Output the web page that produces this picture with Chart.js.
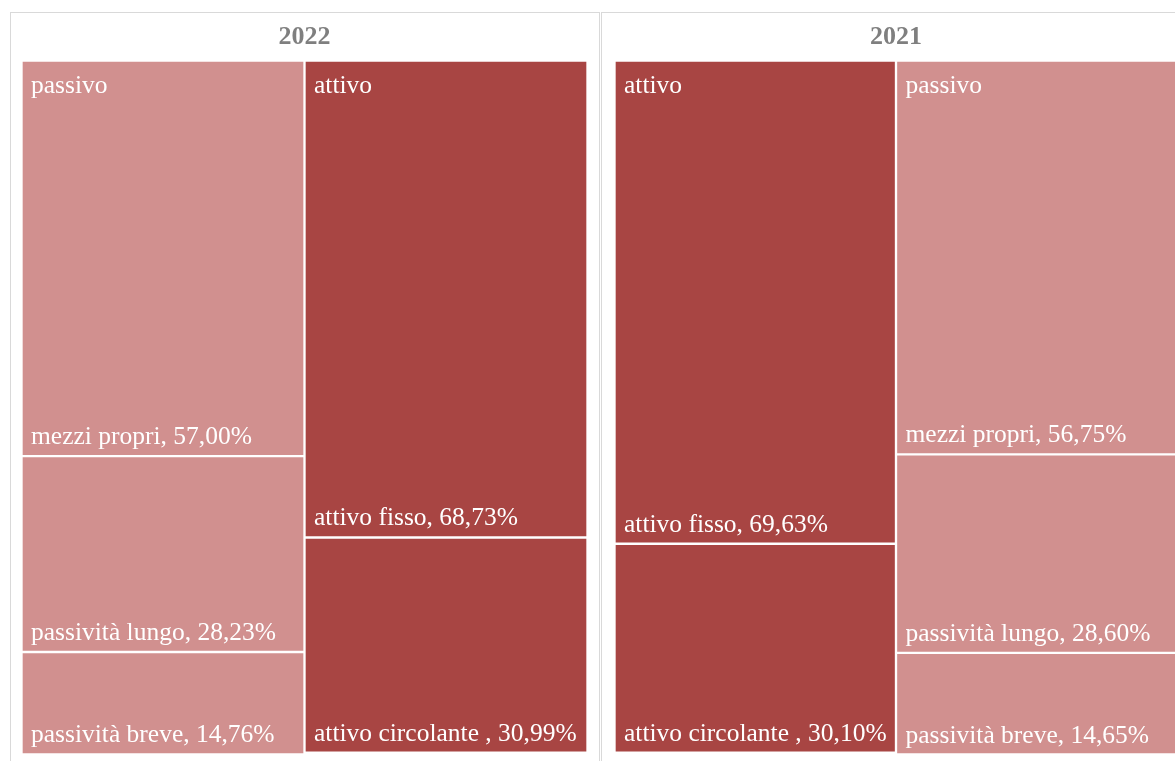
<!DOCTYPE html>
<html>
<head>
<meta charset="utf-8">
<script src="https://cdn.jsdelivr.net/npm/chart.js@4/dist/chart.umd.min.js"></script>
<style>
    body { margin: 0; background: #fff; overflow: hidden; width: 1175px; height: 761px; position: relative; }
    .panel { position: absolute; top: 12px; width: 590px; height: 800px; box-sizing: border-box; border: 1px solid #d9d9d9; }
    canvas { position: absolute; top: 12px; }
</style>
</head>
<body>
<div class="panel" style="left:10px"></div>
<div class="panel" style="left:601px"></div>
<canvas id="chart2022" width="589" height="749" style="left:10px"></canvas>
<canvas id="chart2021" width="589" height="749" style="left:602px"></canvas>

<script>
const passivoNames = ["mezzi propri", "passività lungo", "passività breve"];
const attivoNames = ["attivo fisso", "attivo circolante "];

const passivo2022 = [57.00, 28.23, 14.76];
const attivo2022 = [68.73, 30.99];
const passivo2021 = [56.75, 28.60, 14.65];
const attivo2021 = [69.63, 30.10];

const columns2022 = ["passivo", "attivo"];
const columns2021 = ["attivo", "passivo"];

const PASSIVO_COLOR = "#D1908F";
const ATTIVO_COLOR = "#A84543";
const FONT = "'Liberation Serif', 'Times New Roman', serif";

const fmt = v => v.toFixed(2).replace(".", ",");

// one dataset per block, placed in its own column and stacked from the top down
const buildDatasets = (columns, passivo, attivo) => {
    const sets = [];
    const add = (group, names, values, color) => {
        const col = columns.indexOf(group);
        names.forEach((name, i) => {
            const data = columns.map(() => null);
            data[col] = values[i];
            sets.push({
                label: name,
                data: data,
                group: group,
                first: i === 0,
                backgroundColor: color,
                borderColor: "#ffffff",
                borderWidth: 1.5,
                borderSkipped: false,
                barPercentage: 1,
                categoryPercentage: 1,
            });
        });
    };
    add("passivo", passivoNames, passivo, PASSIVO_COLOR);
    add("attivo", attivoNames, attivo, ATTIVO_COLOR);
    return sets;
}

// writes the group name at the top of each column and "name, value%" at the bottom of each block
const blockLabels = {
    id: "blockLabels",
    afterDatasetsDraw(chart) {
        const ctx = chart.ctx;
        ctx.save();
        ctx.fillStyle = "#ffffff";
        ctx.font = "25.5px " + FONT;
        ctx.textAlign = "left";
        ctx.textBaseline = "alphabetic";
        chart.data.datasets.forEach((ds, di) => {
            const meta = chart.getDatasetMeta(di);
            meta.data.forEach((bar, idx) => {
                const value = ds.data[idx];
                if (value === null) return;
                const p = bar.getProps(["x", "y", "base", "width"], true);
                const left = p.x - p.width / 2 + 1.5;
                const top = Math.min(p.y, p.base) + 1.5;
                const bottom = Math.max(p.y, p.base) - 1.5;
                if (ds.first) ctx.fillText(ds.group, left + 8, top + 31);
                ctx.fillText(ds.label + ", " + fmt(value) + "%", left + 8, bottom - 10.5);
            });
        });
        ctx.restore();
    }
};

const makeChart = (id, year, columns, passivo, attivo, padLeft, padRight) => {
    new Chart(document.getElementById(id), {
        type: "bar",
        data: {
            labels: columns,
            datasets: buildDatasets(columns, passivo, attivo)
        },
        options: {
            responsive: false,
            animation: false,
            layout: { padding: { left: padLeft, right: padRight, top: 0, bottom: 6.5 } },
            scales: {
                x: { stacked: true, display: false },
                y: { stacked: true, display: false, reverse: true, min: 0, max: 100 }
            },
            plugins: {
                legend: { display: false },
                tooltip: { enabled: false },
                title: {
                    display: true,
                    text: year,
                    color: "#7f7f7f",
                    font: { family: FONT, size: 26, weight: "bold" },
                    padding: { top: 9.9, bottom: 7.4 }
                }
            }
        },
        plugins: [blockLabels]
    });
}

makeChart("chart2022", "2022", columns2022, passivo2022, attivo2022, 11.5, 11.5);
makeChart("chart2021", "2021", columns2021, passivo2021, attivo2021, 12.5, 13.5);
</script>
</body>
</html>
